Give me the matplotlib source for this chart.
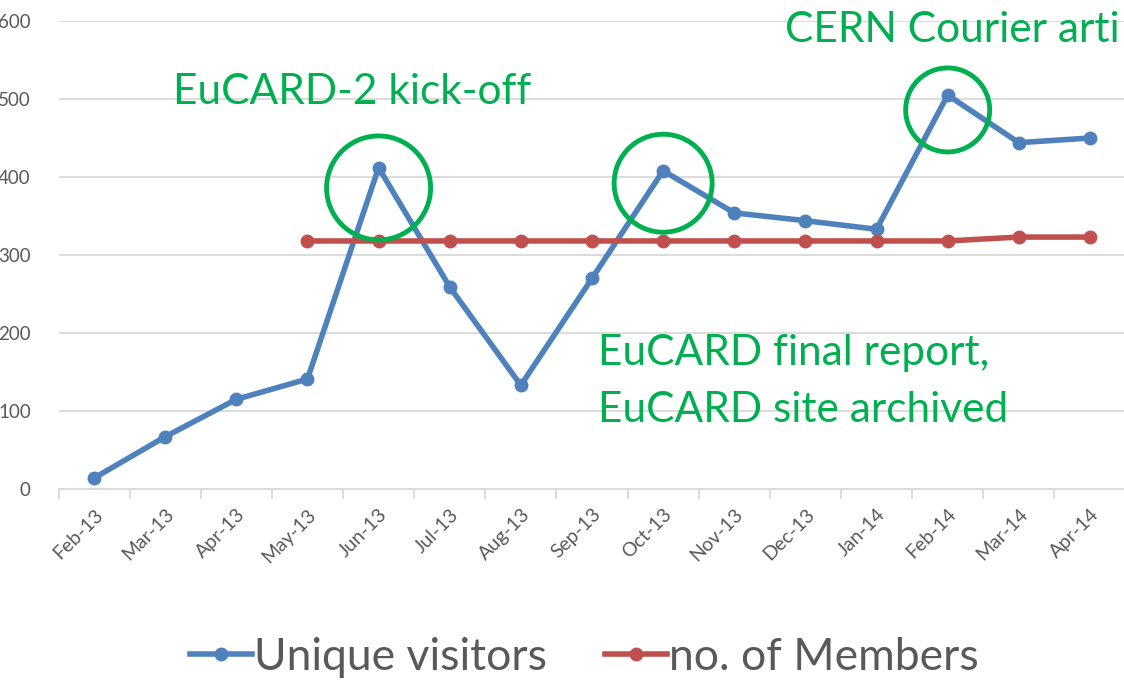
import numpy as np
import matplotlib
matplotlib.use("Agg")
import matplotlib.pyplot as plt
from matplotlib.patches import Ellipse

plt.rcParams['font.family'] = ['Lato', 'DejaVu Sans']

months = ['Feb-13', 'Mar-13', 'Apr-13', 'May-13', 'Jun-13', 'Jul-13', 'Aug-13', 'Sep-13',
          'Oct-13', 'Nov-13', 'Dec-13', 'Jan-14', 'Feb-14', 'Mar-14', 'Apr-14']
visitors = [14, 67, 115, 141, 412, 259, 133, 270, 408, 354, 344, 333, 505, 444, 450]
members = [np.nan, np.nan, np.nan, 318, 318, 318, 318, 318, 318, 318, 318, 318, 318, 323, 323]

# highlighted peaks (month index, value)
highlights = [(4, 386), (8, 392), (12, 486)]

blue = '#4F81BD'
red = '#C0504D'
green = '#00B050'
grey = '#595959'

W, H = 1124, 685
fig = plt.figure(figsize=(W / 100, H / 100), dpi=100)
ax = fig.add_axes([58.5 / W, 1 - 489 / H, (1125.5 - 58.5) / W, (489 - 21) / H])

x = np.arange(len(months))
ax.plot(x, visitors, color=blue, lw=4, marker='o', ms=9, label='Unique visitors', zorder=3)
ax.plot(x, members, color=red, lw=4, marker='o', ms=9, label='no. of Members', zorder=3)

ax.set_xlim(-0.5, len(months) - 0.5)
ax.set_ylim(0, 600)
ax.set_yticks(range(0, 601, 100))
ax.grid(axis='y', color='#D9D9D9', lw=1.3)
ax.set_axisbelow(True)
for s in ['top', 'right', 'left']:
    ax.spines[s].set_visible(False)
ax.spines['bottom'].set_color('#D9D9D9')
ax.spines['bottom'].set_linewidth(1.3)

ax.set_xticks(x)
ax.set_xticklabels(months, rotation=45, ha='right', rotation_mode='anchor',
                   fontsize=14, color=grey)
ax.tick_params(axis='x', length=0, pad=12)
ax.set_xticks(np.arange(-0.5, len(months), 1), minor=True)
ax.tick_params(axis='x', which='minor', length=7, color='#D9D9D9', width=1.3)
ax.tick_params(axis='y', length=0, pad=20, labelsize=13.5, labelcolor=grey)

# circles around peaks (pixel sizes converted to data units)
sx = 71.13
sy = 0.78
for (cx, cy), r in zip(highlights, [52, 49, 42]):
    ax.add_patch(Ellipse((cx, cy), 2 * r / sx, 2 * r / sy, fill=False,
                         ec=green, lw=3.5, zorder=4, clip_on=False))

fs = 30.5
fig.text(173 / W, 1 - 104 / H, 'EuCARD-2 kick-off', color=green, fontsize=fs, va='baseline')
fig.text(785 / W, 1 - 42 / H, 'CERN Courier arti', color=green, fontsize=fs, va='baseline')
fig.text(598 / W, 1 - 365 / H, 'EuCARD final report,', color=green, fontsize=fs, va='baseline')
fig.text(598 / W, 1 - 422 / H, 'EuCARD site archived', color=green, fontsize=fs, va='baseline')

fig.legend(loc='center', bbox_to_anchor=(0.52, 1 - 657 / H), ncol=2, frameon=False,
           fontsize=32, labelcolor=grey, handlelength=1.4, handletextpad=0.05,
           columnspacing=1.3, markerscale=1.0)

fig.savefig('out.png', dpi=100)
